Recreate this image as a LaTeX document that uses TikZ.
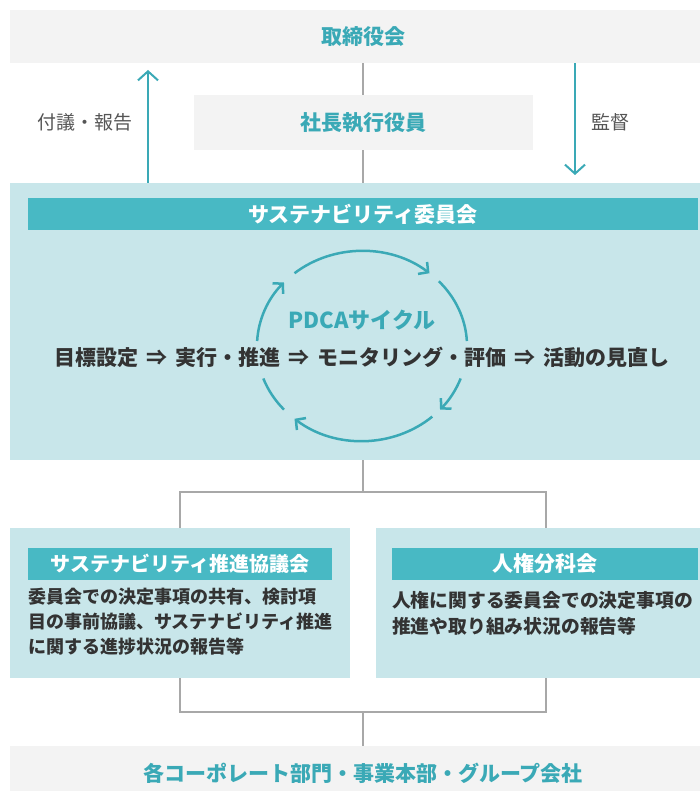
\documentclass[tikz,border=0pt]{standalone}
\usepackage{fontspec}
\setmainfont{Noto Sans CJK JP}
\usepackage{tikz}
\usetikzlibrary{positioning,arrows.meta}

\definecolor{teal1}{HTML}{3AA9B6}
\definecolor{barteal}{HTML}{48B9C4}
\definecolor{paleteal}{HTML}{C8E6EA}
\definecolor{boxgray}{HTML}{F3F3F3}
\definecolor{linegray}{HTML}{A8A8A8}
\definecolor{txtdark}{HTML}{333333}
\definecolor{txtgray}{HTML}{555555}

\newcommand{\thento}{\hspace{8pt}⇒\hspace{8pt}}

\begin{document}
\begin{tikzpicture}[x=1pt,y=1pt,
  gbox/.style={fill=boxgray,minimum height=53pt,inner sep=0pt,text=teal1,font=\fontsize{21}{25}\selectfont\bfseries},
  pbox/.style={fill=paleteal,inner sep=0pt},
  bar/.style={fill=barteal,minimum height=32pt,inner sep=0pt,text=white,font=\fontsize{21}{25}\selectfont\bfseries},
  body/.style={align=left,inner sep=0pt,text=txtdark,font=\fontsize{18}{25}\selectfont\bfseries},
  lbl/.style={inner sep=0pt,text=txtgray,font=\fontsize{19}{23}\selectfont},
  link/.style={draw=linegray,line width=1.5pt},
  arr/.style={draw=teal1,line width=2pt,-{Straight Barb[length=9pt,width=20pt]}},
  cyc/.style={draw=teal1,line width=2.5pt},
  tip/.style={-{Straight Barb[length=7pt,width=15pt]}}]
	\useasboundingbox (0,0) rectangle (699,-791);

	% board and president
	\node[gbox,minimum width=706pt] (brd) at (363,-36.5) {取締役会};
	\node[gbox,minimum width=339pt,minimum height=55pt] (pres) at (363,-122.5) {社長執行役員};
	\node[lbl] (rep) at (85,-122) {付議・報告};
	\node[lbl] (sup) at (610,-122) {監督};

	% sustainability committee
	\node[pbox,minimum width=706pt,minimum height=277pt] (sc) at (363,-321.5) {};
	\node[bar,minimum width=670pt] (scbar) at (363,-214) {サステナビリティ委員会};
	\node[inner sep=0pt,text=teal1,font=\fontsize{22}{26}\selectfont\bfseries] (pdca) at (362,-320) {PDCAサイクル};
	\node[inner sep=0pt,text=txtdark,font=\fontsize{21}{25}\selectfont\bfseries] (flow) at (362,-357) {目標設定\thento 実行・推進\thento モニタリング・評価\thento 活動の見直し};

	\coordinate (c0) at (362,-346);
	\draw[cyc,tip] ([shift={(130:105 and 95)}]c0) arc[start angle=130,end angle=50,x radius=105,y radius=95];
	\draw[cyc] ([shift={(43:105 and 95)}]c0) arc[start angle=43,end angle=3,x radius=105,y radius=95];
	\draw[cyc,tip] ([shift={(-20:105 and 95)}]c0) arc[start angle=-20,end angle=-42,x radius=105,y radius=95];
	\draw[cyc,tip] ([shift={(-48:105 and 95)}]c0) arc[start angle=-48,end angle=-130,x radius=105,y radius=95];
	\draw[cyc] ([shift={(-138:105 and 95)}]c0) arc[start angle=-138,end angle=-160,x radius=105,y radius=95];
	\draw[cyc,tip] ([shift={(177:105 and 95)}]c0) arc[start angle=177,end angle=138,x radius=105,y radius=95];

	% sub committees
	\node[pbox,minimum width=340pt,minimum height=150pt] (lb) at (180,-603) {};
	\node[pbox,minimum width=340pt,minimum height=150pt] (rb) at (546,-603) {};
	\node[bar,minimum width=304pt,font=\fontsize{20}{24}\selectfont\bfseries] (lbar) at (180,-564) {サステナビリティ推進協議会};
	\node[bar,minimum width=306pt] (rbar) at (545,-564) {人権分科会};
	\node[body,anchor=north west] (ltxt) at ([yshift=-8pt]lbar.south west) {委員会での決定事項の共有、検討項\\目の事前協議、サステナビリティ推進\\に関する進捗状況の報告等};
	\node[body,anchor=north west,font=\fontsize{18.8}{26}\selectfont\bfseries] (rtxt) at ([yshift=-11pt]rbar.south west) {人権に関する委員会での決定事項の\\推進や取り組み状況の報告等};

	% group companies
	\node[gbox,minimum width=706pt,minimum height=54pt] (grp) at (363,-773) {各コーポレート部門・事業本部・グループ会社};

	\coordinate (upend) at (148,-70);
	\coordinate (dnend) at (575,-175);
	\coordinate (j1) at (363,-492);
	\coordinate (j2) at (363,-712);

	\draw[arr] (sc.north -| upend) -- (upend);
	\draw[arr] (brd.south -| dnend) -- (dnend);
	\draw[link] (brd.south) -- (pres.north);
	\draw[link] (pres.south) -- (sc.north);
	\draw[link] (sc.south) -- (j1);
	\draw[link] (lb.north) |- (j1) -| (rb.north);
	\draw[link] (lb.south) |- (j2) -| (rb.south);
	\draw[link] (j2) -- (grp.north);
\end{tikzpicture}
\end{document}
